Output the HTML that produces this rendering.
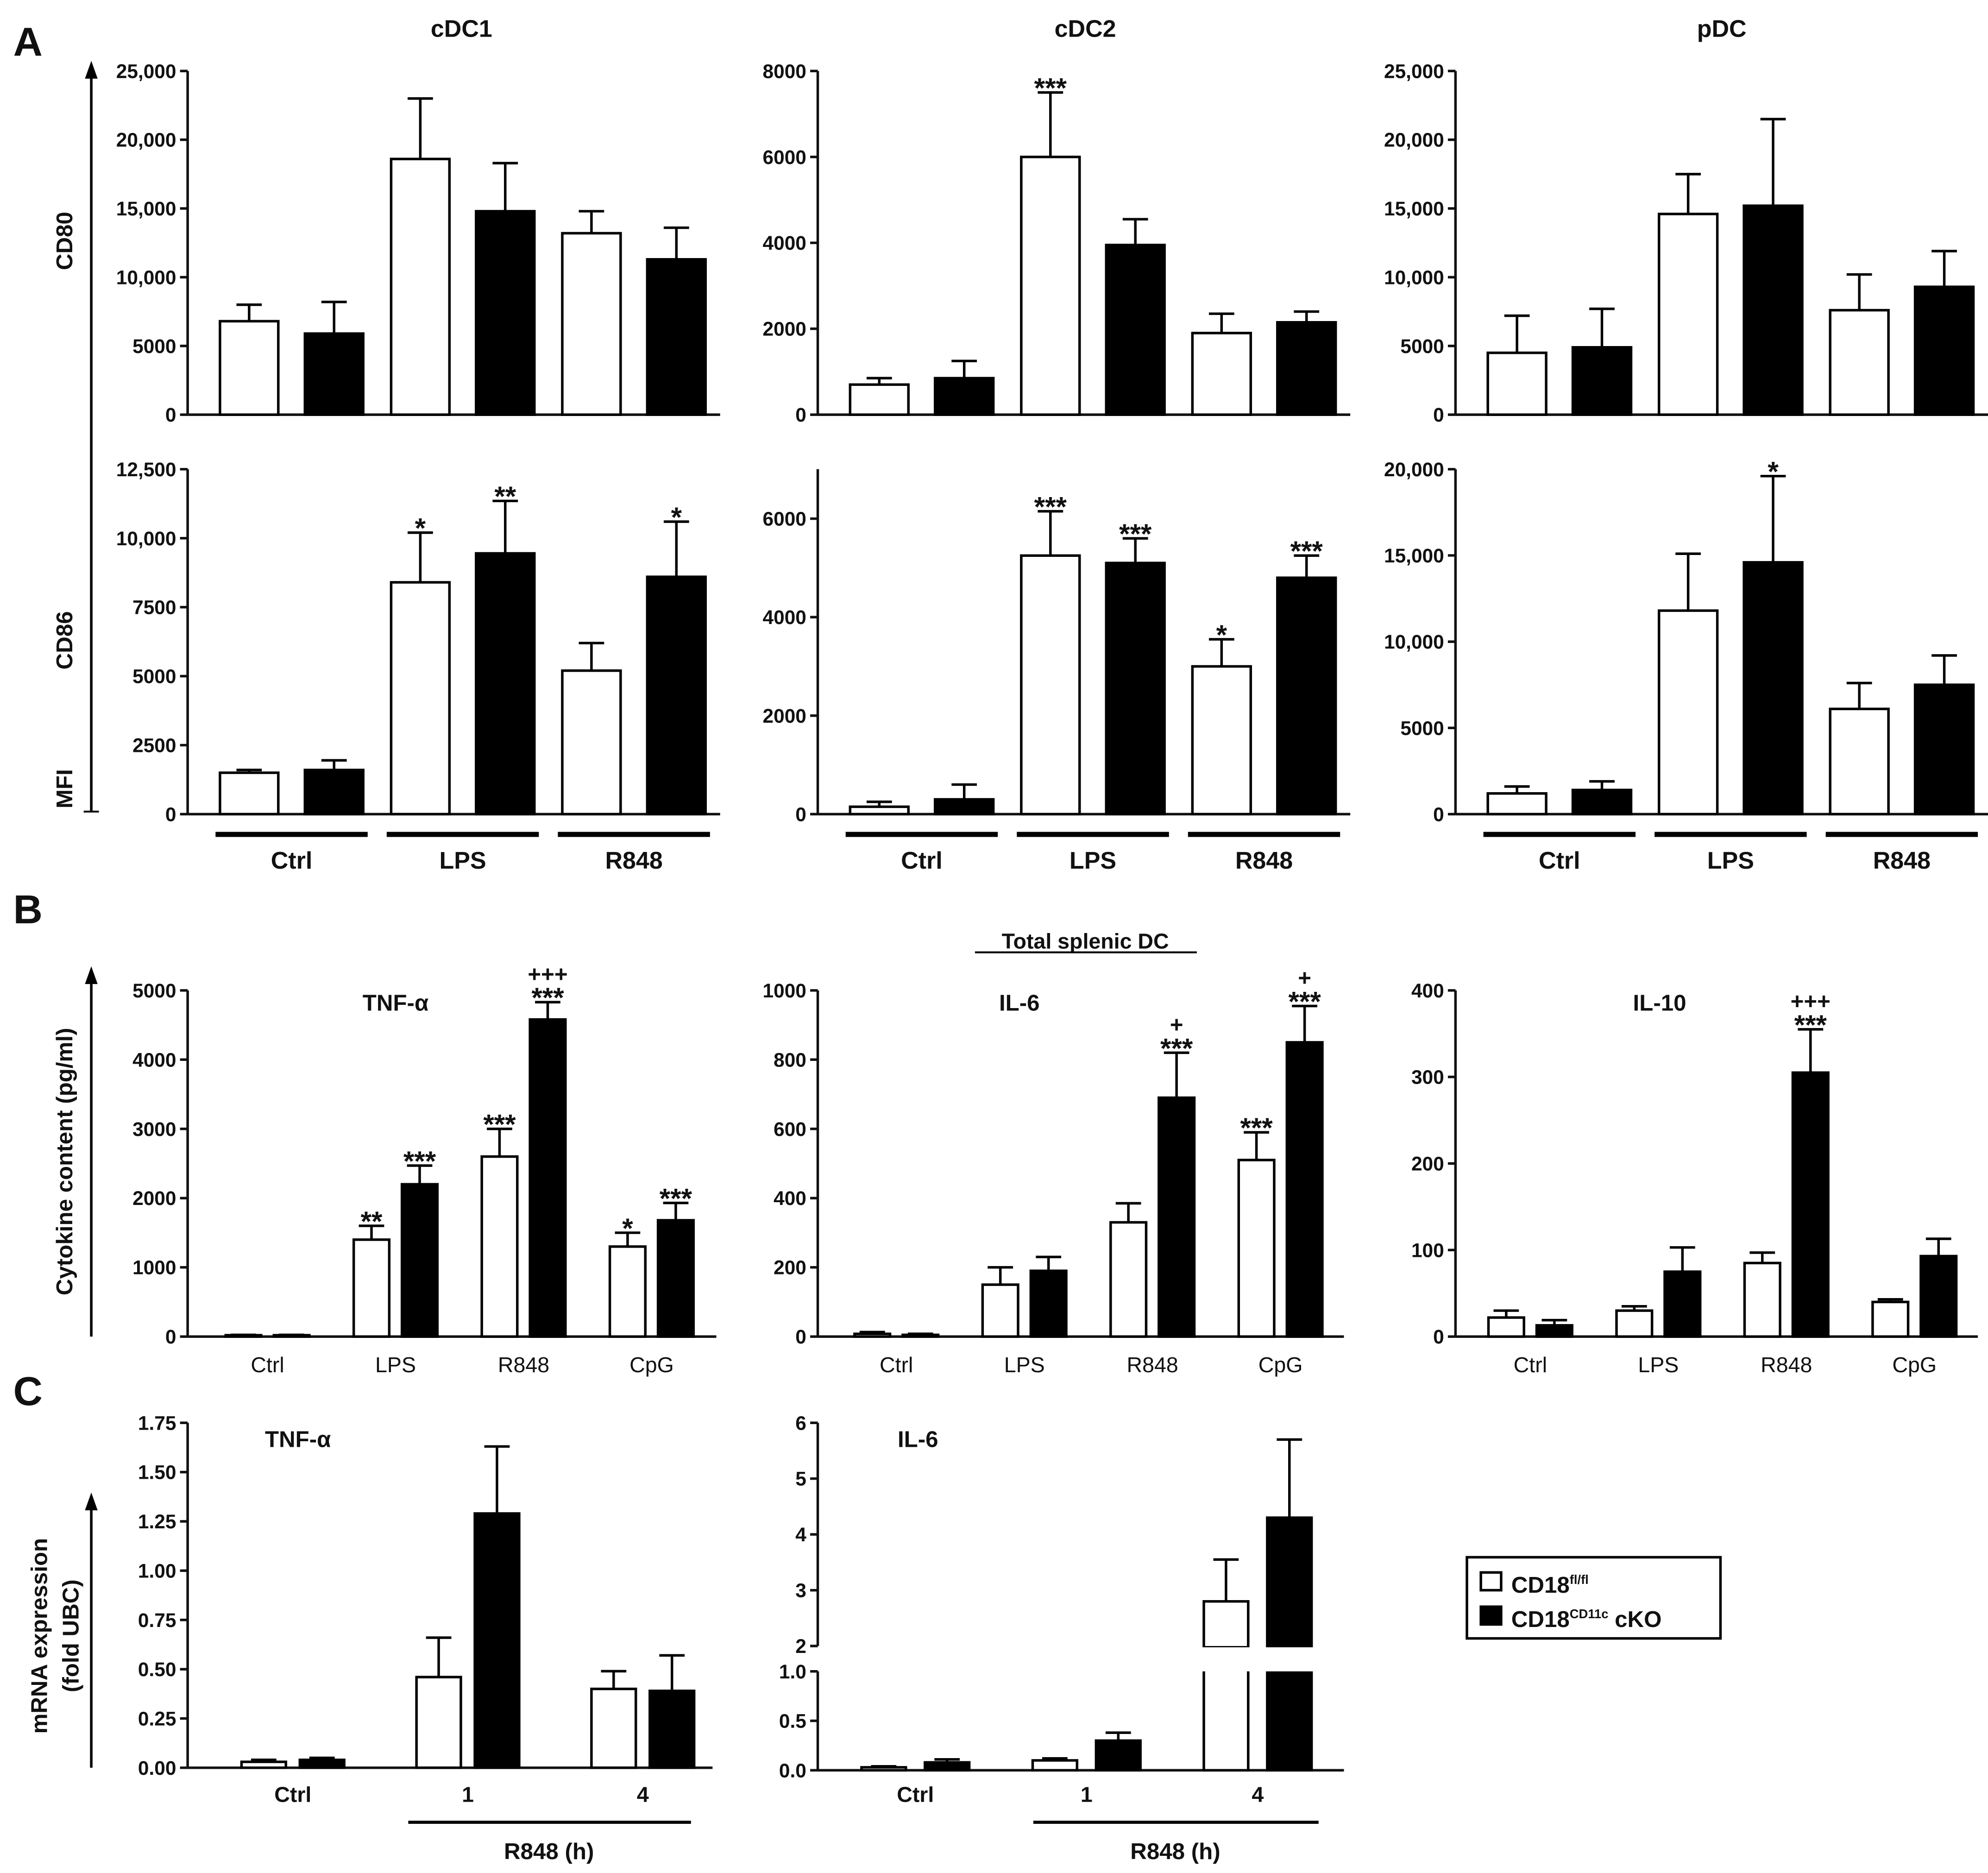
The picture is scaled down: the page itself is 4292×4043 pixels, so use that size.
<!DOCTYPE html>
<html><head><meta charset="utf-8"><style>html,body{margin:0;padding:0;background:#fff}svg{display:block}text{font-family:"Liberation Sans",Arial,sans-serif;fill:#111}</style></head>
<body>
<svg id="fig" xmlns="http://www.w3.org/2000/svg" width="4292" height="4043" viewBox="0 0 1568 1477" preserveAspectRatio="none">
<rect width="1568" height="1477" fill="#fff"/>
</svg>
<script>
// ---- data ----
const groupsA = ["Ctrl","LPS","R848"];
const groupsB = ["Ctrl","LPS","R848","CpG"];
const groupsC = ["Ctrl","1","4"];
const cdc1_cd80 = [6800,5900,18600,14800,13200,11300];
const cdc1_cd80_err = [1200,2300,4400,3500,1600,2300];
const cdc2_cd80 = [700,850,6000,3950,1900,2150];
const cdc2_cd80_err = [150,400,1500,600,450,250];
const pdc_cd80 = [4500,4900,14600,15200,7600,9300];
const pdc_cd80_err = [2700,2800,2900,6300,2600,2600];
const cdc1_cd86 = [1500,1600,8400,9450,5200,8600];
const cdc1_cd86_err = [100,350,1800,1900,1000,2000];
const cdc1_cd86_sig = ["","","*","**","","*"];
const cdc2_cd86 = [150,300,5250,5100,3000,4800];
const cdc2_cd86_err = [100,300,900,500,550,450];
const cdc2_cd86_sig = ["","","***","***","*","***"];
const pdc_cd86 = [1200,1400,11800,14600,6100,7500];
const pdc_cd86_err = [400,500,3300,5000,1500,1700];
const pdc_cd86_sig = ["","","","*","",""];
const cdc2_cd80_sig = ["","","***","","",""];
const tnf = [20,20,1400,2200,2600,4580,1300,1680];
const tnf_err = [5,5,200,270,400,250,200,250];
const tnf_sig = ["","","**","***","***","***","*","***"];
const tnf_sig2 = ["","","","","","+++","",""];
const il6 = [8,5,150,190,330,690,510,850];
const il6_err = [5,3,50,40,55,130,80,105];
const il6_sig = ["","","","","","***","***","***"];
const il6_sig2 = ["","","","","","+","","+"];
const il10 = [22,13,30,75,85,305,40,93];
const il10_err = [8,6,5,28,12,50,3,20];
const il10_sig = ["","","","","","***","",""];
const il10_sig2 = ["","","","","","+++","",""];
const mTnf = [0.03,0.04,0.46,1.29,0.40,0.39];
const mTnf_err = [0.01,0.01,0.2,0.34,0.09,0.18];
const mIl6 = [0.03,0.08,0.1,0.3,2.8,4.3];
const mIl6_err = [0.01,0.03,0.02,0.08,0.75,1.4];
const ticksA1 = [0,5000,10000,15000,20000,25000];
const ticksA1L = ["0","5000","10,000","15,000","20,000","25,000"];
const ticksA2 = [0,2000,4000,6000,8000];
const ticksA2L = ["0","2000","4000","6000","8000"];
const ticksA4 = [0,2500,5000,7500,10000,12500];
const ticksA4L = ["0","2500","5000","7500","10,000","12,500"];
const ticksA5 = [0,2000,4000,6000];
const ticksA5L = ["0","2000","4000","6000"];
const ticksA6 = [0,5000,10000,15000,20000];
const ticksA6L = ["0","5000","10,000","15,000","20,000"];
const ticksTnf = [0,1000,2000,3000,4000,5000];
const ticksIl6 = [0,200,400,600,800,1000];
const ticksIl10 = [0,100,200,300,400];
const ticksMT = [0,0.25,0.5,0.75,1,1.25,1.5,1.75];
const ticksMTL = ["0.00","0.25","0.50","0.75","1.00","1.25","1.50","1.75"];
const ticksMIlo = [0,0.5,1];
const ticksMIloL = ["0.0","0.5","1.0"];
const ticksMIhi = [2,3,4,5,6];

const NS="http://www.w3.org/2000/svg";
const svg=document.getElementById('fig');
function mk(tag,attrs,parent,text){const e=document.createElementNS(NS,tag);for(const k in attrs)e.setAttribute(k,attrs[k]);if(text!==undefined)e.textContent=text;(parent||svg).appendChild(e);return e;}
function txt(x,y,s,size,weight,anchor,name,parent,rot){const t=mk('text',{x:x,y:y,'font-size':size,'font-weight':weight||'bold','text-anchor':anchor||'middle'},parent,s);


if(rot)t.setAttribute('transform','rotate(-90 '+x+' '+y+')');return t;}

function chart(c){
  const g=mk('g',{});
  
  
  const y=v=>c.y0-(v-c.min)/(c.max-c.min)*(c.y0-c.yTop);
  const bx=(i)=>{const gi=Math.floor(i/2),s=i%2;return c.c0+gi*c.step+(s===0?-(c.gap/2+c.bw):c.gap/2);};
  const ax=mk('line',{x1:c.ax,y1:c.y0,x2:c.ax,y2:c.axTop!==undefined?c.axTop:c.yTop,stroke:'#111','stroke-width':2},g);
  
  
  if(!c.noX){const xa=mk('line',{x1:c.ax,y1:c.y0,x2:c.axR,y2:c.y0,stroke:'#111','stroke-width':2},g);
  
  }
  c.ticks.forEach((t,k)=>{mk('line',{x1:c.ax-6,y1:y(t),x2:c.ax,y2:y(t),stroke:'#111','stroke-width':2},g);
    txt(c.ax-9,y(t)+5.5,c.tickL?c.tickL[k]:String(t),15.5,'bold','end','y-tick-label',g);});
  c.vals.forEach((v,i)=>{
    if(c.skipBelow && v<c.min) return;
    const x=bx(i),vv=c.clip!==undefined?Math.min(v,c.clip):v;
    const top=y(Math.max(vv,c.min)),base=c.baseY!==undefined?c.baseY:c.y0;
    const r=mk('rect',{x:x,y:top,width:c.bw,height:Math.max(base-top,1),fill:i%2?'#000':'#fff',stroke:'#000','stroke-width':2},g);
    
    
    if(c.clip!==undefined && v>c.clip) return;
    const et=y(v+c.err[i]),cx=x+c.bw/2;
    mk('line',{x1:cx,y1:top,x2:cx,y2:et,stroke:'#000','stroke-width':2},g);
    mk('line',{x1:cx-10,y1:et,x2:cx+10,y2:et,stroke:'#000','stroke-width':2},g);
    if(c.sig&&c.sig[i])txt(cx,et+4,c.sig[i],22,'bold','middle','significance-mark',g);
    if(c.sig2&&c.sig2[i])txt(cx,et-16,c.sig2[i],18,'bold','middle','plus-mark',g);
  });
  if(c.labY){c.groups.forEach((n,gi)=>{txt(c.c0+gi*c.step,c.labY,n,c.labSize||17,c.labW||'bold','middle','x-label',g);});}
  return y;
}
// Panel A
const yT=[56,370], y0=[327,642];
const colA=[148,645,1148];
const cfgA=[
 [cdc1_cd80,cdc1_cd80_err,null,ticksA1,ticksA1L,25000,56],
 [cdc2_cd80,cdc2_cd80_err,cdc2_cd80_sig,ticksA2,ticksA2L,8000,56],
 [pdc_cd80,pdc_cd80_err,null,ticksA1,ticksA1L,25000,56],
 [cdc1_cd86,cdc1_cd86_err,cdc1_cd86_sig,ticksA4,ticksA4L,12500,370],
 [cdc2_cd86,cdc2_cd86_err,cdc2_cd86_sig,ticksA5,ticksA5L,6000,409],
 [pdc_cd86,pdc_cd86_err,pdc_cd86_sig,ticksA6,ticksA6L,20000,370]];
cfgA.forEach((d,k)=>{const col=k%3,row=Math.floor(k/3);
 chart({name:'panel-a-chart-'+k,groups:groupsA,vals:d[0],err:d[1],sig:d[2],ticks:d[3],tickL:d[4],min:0,max:d[5],y0:y0[row],yTop:d[6],axTop:yT[row],
  ax:colA[col],axR:colA[col]+420,c0:colA[col]+82,step:135,bw:46,gap:21});});
for(let col=0;col<3;col++){groupsA.forEach((n,gi)=>{const cx=colA[col]+82+gi*135;
 const l=mk('line',{x1:cx-60,y1:658,x2:cx+60,y2:658,stroke:'#000','stroke-width':4});
 
 
 txt(cx,685,n,19,'bold','middle','group-label');});}
txt(364,29,'cDC1',19,'bold','middle','title-cdc1');
txt(856,29,'cDC2',19,'bold','middle','title-cdc2');
txt(1358,29,'pDC',19,'bold','middle','title-pdc');
mk('line',{x1:72,y1:640,x2:72,y2:60,stroke:'#000','stroke-width':2});
mk('polygon',{points:'72,48 67,62 77,62',fill:'#000'});
mk('line',{x1:66,y1:640,x2:78,y2:640,stroke:'#000','stroke-width':1.5});
txt(57,190,'CD80',18,'bold','middle','y-title-cd80',null,true);
txt(57,505,'CD86',18,'bold','middle','y-title-cd86',null,true);
txt(57,622,'MFI',18,'bold','middle','y-title-mfi',null,true);
txt(22,44,'A',32,'bold','middle','panel-label-a');
// Panel B
chart({name:'tnf-cytokine-chart',groups:groupsB,vals:tnf,err:tnf_err,sig:tnf_sig,sig2:tnf_sig2,ticks:ticksTnf,min:0,max:5000,y0:1054,yTop:781,ax:148,axR:565,c0:211,step:101,bw:28,gap:10,labY:1082,labSize:17,labW:'normal'});
chart({name:'il6-cytokine-chart',groups:groupsB,vals:il6,err:il6_err,sig:il6_sig,sig2:il6_sig2,ticks:ticksIl6,min:0,max:1000,y0:1054,yTop:781,ax:645,axR:1060,c0:707,step:101,bw:28,gap:10,labY:1082,labSize:17,labW:'normal'});
chart({name:'il10-cytokine-chart',groups:groupsB,vals:il10,err:il10_err,sig:il10_sig,sig2:il10_sig2,ticks:ticksIl10,min:0,max:400,y0:1054,yTop:781,ax:1148,axR:1560,c0:1207,step:101,bw:28,gap:10,labY:1082,labSize:17,labW:'normal'});
txt(312,797,'TNF-α',18,'bold','middle','tnf-title');
txt(804,797,'IL-6',18,'bold','middle','il6-title');
txt(1309,797,'IL-10',18,'bold','middle','il10-title');
txt(856,748,'Total splenic DC',17,'bold','middle','title-total-splenic-dc');
mk('line',{x1:769,y1:751,x2:944,y2:751,stroke:'#000','stroke-width':1.5});
mk('line',{x1:72,y1:1054,x2:72,y2:775,stroke:'#000','stroke-width':2});
mk('polygon',{points:'72,762 67,776 77,776',fill:'#000'});
txt(57,916,'Cytokine content (pg/ml)',18,'bold','middle','y-title-cytokine',null,true);
txt(22,728,'B',32,'bold','middle','panel-label-b');
// Panel C
chart({name:'tnf-mrna-chart',groups:groupsC,vals:mTnf,err:mTnf_err,ticks:ticksMT,tickL:ticksMTL,min:0,max:1.75,y0:1394,yTop:1122,ax:148,axR:562,c0:231,step:138,bw:35,gap:11,labY:1421,labSize:17});
chart({name:'il6-mrna-chart-low',groups:groupsC,vals:mIl6,err:mIl6_err,clip:1.12,ticks:ticksMIlo,tickL:ticksMIloL,min:0,max:1,y0:1396,yTop:1318,axTop:1318,ax:645,axR:1060,c0:722,step:135,bw:35,gap:15,labY:1421,labSize:17});
chart({name:'il6-mrna-chart-high',groups:groupsC,vals:mIl6,err:mIl6_err,skipBelow:true,ticks:ticksMIhi,min:2,max:6,y0:1298,yTop:1122,baseY:1299,ax:645,axR:645,c0:722,step:135,bw:35,gap:15,noX:true});
mk('rect',{x:935,y:1299,width:110,height:19,fill:'#fff'});
txt(235,1141,'TNF-α',18,'bold','middle','tnf-mrna-title');
txt(724,1141,'IL-6',18,'bold','middle','il6-mrna-title');
[[322,545,433],[815,1040,927]].forEach(a=>{const l=mk('line',{x1:a[0],y1:1437,x2:a[1],y2:1437,stroke:'#000','stroke-width':2.5});
 
 
 txt(a[2],1466,'R848 (h)',18,'bold','middle','r848-label');});
mk('line',{x1:72,y1:1394,x2:72,y2:1190,stroke:'#000','stroke-width':2});
mk('polygon',{points:'72,1177 67,1191 77,1191',fill:'#000'});
txt(37,1290,'mRNA expression',18,'bold','middle','y-title-mrna',null,true);
txt(62,1290,'(fold UBC)',18,'bold','middle','y-title-fold-ubc',null,true);
txt(22,1108,'C',32,'bold','middle','panel-label-c');
// legend
const lg=mk('g',{});


mk('rect',{x:1157,y:1228,width:200,height:64,fill:'#fff',stroke:'#000','stroke-width':2},lg);
mk('rect',{x:1168,y:1240,width:16,height:14,fill:'#fff',stroke:'#000','stroke-width':2},lg);
mk('rect',{x:1168,y:1267,width:16,height:14,fill:'#000',stroke:'#000','stroke-width':2},lg);
const l1=mk('text',{x:1192,y:1256,'font-size':18,'font-weight':'bold'},lg);l1.innerHTML='CD18<tspan font-size="10" dy="-7">fl/fl</tspan>';


const l2=mk('text',{x:1192,y:1283,'font-size':18,'font-weight':'bold'},lg);l2.innerHTML='CD18<tspan font-size="10" dy="-7">CD11c</tspan><tspan dy="7"> cKO</tspan>';


</script>
</body></html>
